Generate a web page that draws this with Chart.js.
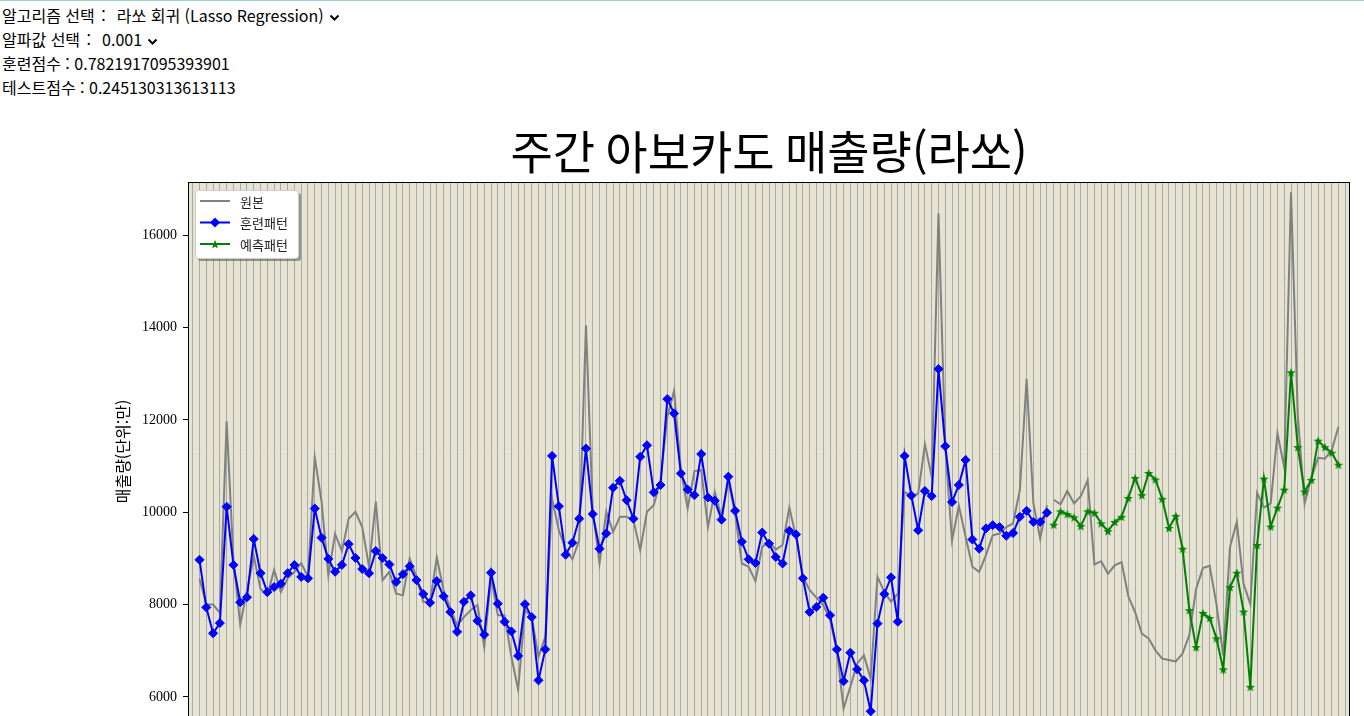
<!DOCTYPE html>
<html lang="ko">
<head>
<meta charset="utf-8">
<title>주간 아보카도 매출량(라쏘)</title>
<script src="https://cdn.jsdelivr.net/npm/chart.js@4.4.1/dist/chart.umd.min.js"></script>
<style>
  html, body { margin: 0; padding: 0; background: #fff; overflow: hidden; }
  body { width: 1364px; height: 716px; border-top: 1px solid #9fd0d4; box-sizing: border-box;
         font-family: "Noto Sans CJK KR", sans-serif; font-size: 16px; color: #000; }
  .info { position: absolute; left: 2px; top: 3px; }
  .info div { height: 24px; line-height: 24px; white-space: nowrap; }
  .colon { margin-left: 2px; }
  .pick { margin-left: 11px; }
  .pick svg { margin-left: 5px; vertical-align: middle; }
  #wrap { position: absolute; left: 0; top: 96px; width: 1364px; height: 645px; }
</style>
</head>
<body>
<div class="info">
  <div>알고리즘 선택 <span class="colon">:</span><span class="pick">라쏘 회귀 (Lasso Regression)<svg width="11" height="8"><polyline points="1.5,1.5 5.5,5.5 9.5,1.5" fill="none" stroke="#000" stroke-width="2"/></svg></span></div>
  <div>알파값 선택 <span class="colon">:</span><span class="pick">0.001<svg width="11" height="8"><polyline points="1.5,1.5 5.5,5.5 9.5,1.5" fill="none" stroke="#000" stroke-width="2"/></svg></span></div>
  <div>훈련점수 : 0.7821917095393901</div>
  <div>테스트점수 : 0.245130313613113</div>
</div>
<div id="wrap"><canvas id="avocado-chart"></canvas></div>
<script>
// 원본 (훈련 구간, 주 0~125)
const origTrain = [
  8560, 8000, 8000, 7820, 11970, 8970, 7570, 8300, 9050, 8340,
  8200, 8750, 8270, 8570, 8710, 8900, 8600, 11190, 10230, 8640,
  9530, 9160, 9860, 10010, 9680, 8820, 10230, 8530, 8710, 8240,
  8200, 9000, 8600, 8060, 8060, 9020, 8310, 7920, 7550, 7730,
  7880, 7990, 7080, 8600, 7770, 7770, 6870, 6160, 7880, 7730,
  6870, 7300, 10300, 9610, 9210, 8980, 9390, 14050, 10040, 8890,
  10010, 9570, 9900, 9900, 9830, 9180, 10010, 10150, 10690, 12060,
  12630, 10910, 10080, 10890, 10910, 9680, 10440, 9900, 10660, 9970,
  8890, 8820, 8510, 9250, 9360, 9190, 9290, 10100, 9450, 8600,
  8310, 8150, 7990, 7680, 7010, 5750, 6220, 6720, 6900, 6400,
  8600, 8280, 8060, 8240, 10440, 10350, 10400, 11470, 10770, 16470,
  11410, 9390, 10140, 9470, 8820, 8710, 9070, 9500, 9540, 9680,
  9760, 10480, 12890, 10190, 9430, 10150
];
// 원본 (테스트 구간, 주 126~168)
const origTest = [
  10270, 10170, 10460, 10190, 10350, 10690, 8870, 8940, 8670, 8850,
  8920, 8180, 7840, 7370, 7270, 7010, 6830, 6800, 6770, 6940,
  7340, 8340, 8790, 8840, 8010, 6900, 9250, 9790, 8450, 8010,
  10420, 10100, 10190, 11710, 10970, 16930, 12080, 10190, 10750, 11180,
  11160, 11340, 11850
];
// 훈련패턴 (훈련 구간 예측값)
const trainPred = [
  8970, 7940, 7380, 7600, 10120, 8860, 8050, 8160, 9420, 8680,
  8270, 8380, 8450, 8680, 8860, 8600, 8570, 10080, 9450, 8990,
  8710, 8860, 9310, 9010, 8770, 8680, 9160, 9010, 8870, 8490,
  8660, 8830, 8530, 8230, 8040, 8510, 8180, 7840, 7410, 8060,
  8200, 7650, 7350, 8690, 8020, 7630, 7420, 6890, 8010, 7730,
  6360, 7030, 11220, 10130, 9080, 9340, 9860, 11380, 9960, 9210,
  9540, 10530, 10680, 10260, 9860, 11200, 11450, 10430, 10590, 12450,
  12140, 10840, 10490, 10370, 11260, 10320, 10250, 9840, 10770, 10030,
  9360, 8980, 8900, 9560, 9320, 9030, 8890, 9600, 9520, 8570,
  7840, 7950, 8150, 7770, 7030, 6340, 6960, 6600, 6360, 5690,
  7590, 8230, 8590, 7630, 11220, 10360, 9610, 10460, 10350, 13100,
  11430, 10220, 10590, 11130, 9410, 9210, 9650, 9720, 9680, 9490,
  9550, 9900, 10030, 9790, 9790, 9990
];
// 예측패턴 (테스트 구간 예측값)
const testPred = [
  9730, 10020, 9960, 9890, 9700, 10020, 9990, 9760, 9590, 9790,
  9900, 10310, 10740, 10370, 10850, 10710, 10290, 9660, 9920, 9210,
  7880, 7080, 7820, 7710, 7270, 6600, 8380, 8690, 7850, 6220,
  9290, 10730, 9690, 10100, 10490, 13030, 11410, 10450, 10700, 11550,
  11410, 11290, 11030
];
const seriesLabels = ['원본', '훈련패턴', '예측패턴'];
const yTicks = [6000, 8000, 10000, 12000, 14000, 16000];

const nTrain = origTrain.length;
const toPoints = (arr, start) => arr.map((v, i) => ({ x: start + i, y: v }));

// matplotlib '*' 마커 흉내
function makeStar(color, r) {
  const c = document.createElement('canvas');
  const s = Math.ceil(r * 2 + 2);
  c.width = s; c.height = s;
  const g = c.getContext('2d');
  g.beginPath();
  for (let k = 0; k < 10; k++) {
    const rad = k % 2 === 0 ? r : r * 0.42;
    const a = -Math.PI / 2 + k * Math.PI / 5;
    g.lineTo(s / 2 + rad * Math.cos(a), s / 2 + 0.6 + rad * Math.sin(a));
  }
  g.closePath();
  g.fillStyle = color;
  g.fill();
  return c;
}
const greenStar = makeStar('#008000', 4.8);

const bgPlugin = {
  id: 'plotBg',
  beforeDraw(chart) {
    const { ctx, chartArea: a } = chart;
    ctx.save();
    ctx.fillStyle = '#e6e4d0';
    ctx.fillRect(a.left, a.top, a.right - a.left, a.bottom - a.top);
    ctx.restore();
  },
  afterDraw(chart) {
    const { ctx, chartArea: a } = chart;
    ctx.save();
    // 테두리
    ctx.strokeStyle = '#000';
    ctx.lineWidth = 1;
    ctx.strokeRect(a.left + 0.5, a.top + 0.5, a.right - a.left - 1, a.bottom - a.top);
    // 제목
    ctx.fillStyle = '#000';
    ctx.font = '46px "Noto Sans CJK KR"';
    ctx.textAlign = 'center';
    ctx.textBaseline = 'middle';
    ctx.fillText('주간 아보카도 매출량(라쏘)', (a.left + a.right) / 2, 56);
    // 범례
    const bx = a.left + 7, by = a.top + 8, bw = 103, bh = 68;
    ctx.fillStyle = 'rgba(0,0,0,0.35)';
    ctx.beginPath(); ctx.roundRect(bx + 3, by + 3, bw, bh, 3); ctx.fill();
    ctx.fillStyle = '#fff';
    ctx.strokeStyle = '#cccccc';
    ctx.beginPath(); ctx.roundRect(bx + 0.5, by + 0.5, bw, bh, 3); ctx.fill(); ctx.stroke();
    const ds = chart.data.datasets;
    const rows = [ds[2], ds[0], ds[1]];
    ctx.font = '13px "Noto Sans CJK KR"';
    ctx.textAlign = 'left';
    rows.forEach((d, k) => {
      const y = by + 11 + k * 21.5;
      ctx.strokeStyle = d.borderColor;
      ctx.lineWidth = 2;
      ctx.beginPath(); ctx.moveTo(bx + 5, y); ctx.lineTo(bx + 35, y); ctx.stroke();
      const mx = bx + 20;
      if (d.pointStyle === 'rectRot') {
        ctx.fillStyle = d.borderColor;
        ctx.beginPath();
        ctx.moveTo(mx - 5, y); ctx.lineTo(mx, y - 5); ctx.lineTo(mx + 5, y); ctx.lineTo(mx, y + 5);
        ctx.closePath(); ctx.fill();
      } else if (d.pointStyle instanceof HTMLCanvasElement) {
        const im = d.pointStyle;
        ctx.drawImage(im, mx - im.width / 2, y - im.height / 2);
      }
      ctx.fillStyle = '#222';
      ctx.fillText(d.label, bx + 45, y + 1);
    });
    ctx.restore();
  }
};

const ctx = document.getElementById('avocado-chart').getContext('2d');
new Chart(ctx, {
  type: 'line',
  data: {
    datasets: [
      {
        label: seriesLabels[1],
        data: toPoints(trainPred, 0),
        borderColor: '#0000ff',
        backgroundColor: '#0000ff',
        borderWidth: 2,
        pointStyle: 'rectRot',
        pointRadius: 4.5,
        pointBorderWidth: 1,
        pointBackgroundColor: '#0000ff',
        pointBorderColor: '#0000ff',
        order: 1
      },
      {
        label: seriesLabels[2],
        data: toPoints(testPred, nTrain),
        borderColor: '#008000',
        backgroundColor: '#008000',
        borderWidth: 2,
        pointStyle: greenStar,
        pointRadius: 4,
        order: 2
      },
      {
        label: seriesLabels[0],
        data: toPoints(origTrain, 0),
        borderColor: '#808080',
        borderWidth: 2,
        pointRadius: 0,
        order: 3
      },
      {
        label: seriesLabels[0],
        data: toPoints(origTest, nTrain),
        borderColor: '#808080',
        borderWidth: 2,
        pointRadius: 0,
        order: 3
      }
    ]
  },
  options: {
    responsive: true,
    maintainAspectRatio: false,
    animation: false,
    layout: { padding: { top: 86, right: 14, bottom: 20, left: 0 } },
    plugins: {
      legend: { display: false },
      title: { display: false },
      tooltip: { enabled: false }
    },
    elements: { line: { tension: 0 } },
    scales: {
      x: {
        type: 'linear',
        min: -1.7,
        max: 169.7,
        border: { display: false },
        grid: { color: '#a9a9ad', lineWidth: 1, drawTicks: false },
        ticks: { display: false, stepSize: 1, autoSkip: false, includeBounds: false }
      },
      y: {
        min: 5480,
        max: 17150,
        afterFit(scale) { scale.width = 188; },
        afterBuildTicks(scale) { scale.ticks = yTicks.map(v => ({ value: v })); },
        border: { display: true, color: '#000', width: 1 },
        grid: { drawOnChartArea: false, drawTicks: true, tickLength: 5, color: '#000' },
        ticks: {
          padding: 6,
          color: '#000',
          font: { family: '"Liberation Serif"', size: 14 },
          callback: v => String(v)
        },
        title: {
          display: true,
          text: '매출량(단위:만)',
          color: '#000',
          font: { family: '"Noto Sans CJK KR"', size: 16 },
          padding: { top: 113, bottom: 0 }
        }
      }
    }
  },
  plugins: [bgPlugin]
});
</script>
</body>
</html>
